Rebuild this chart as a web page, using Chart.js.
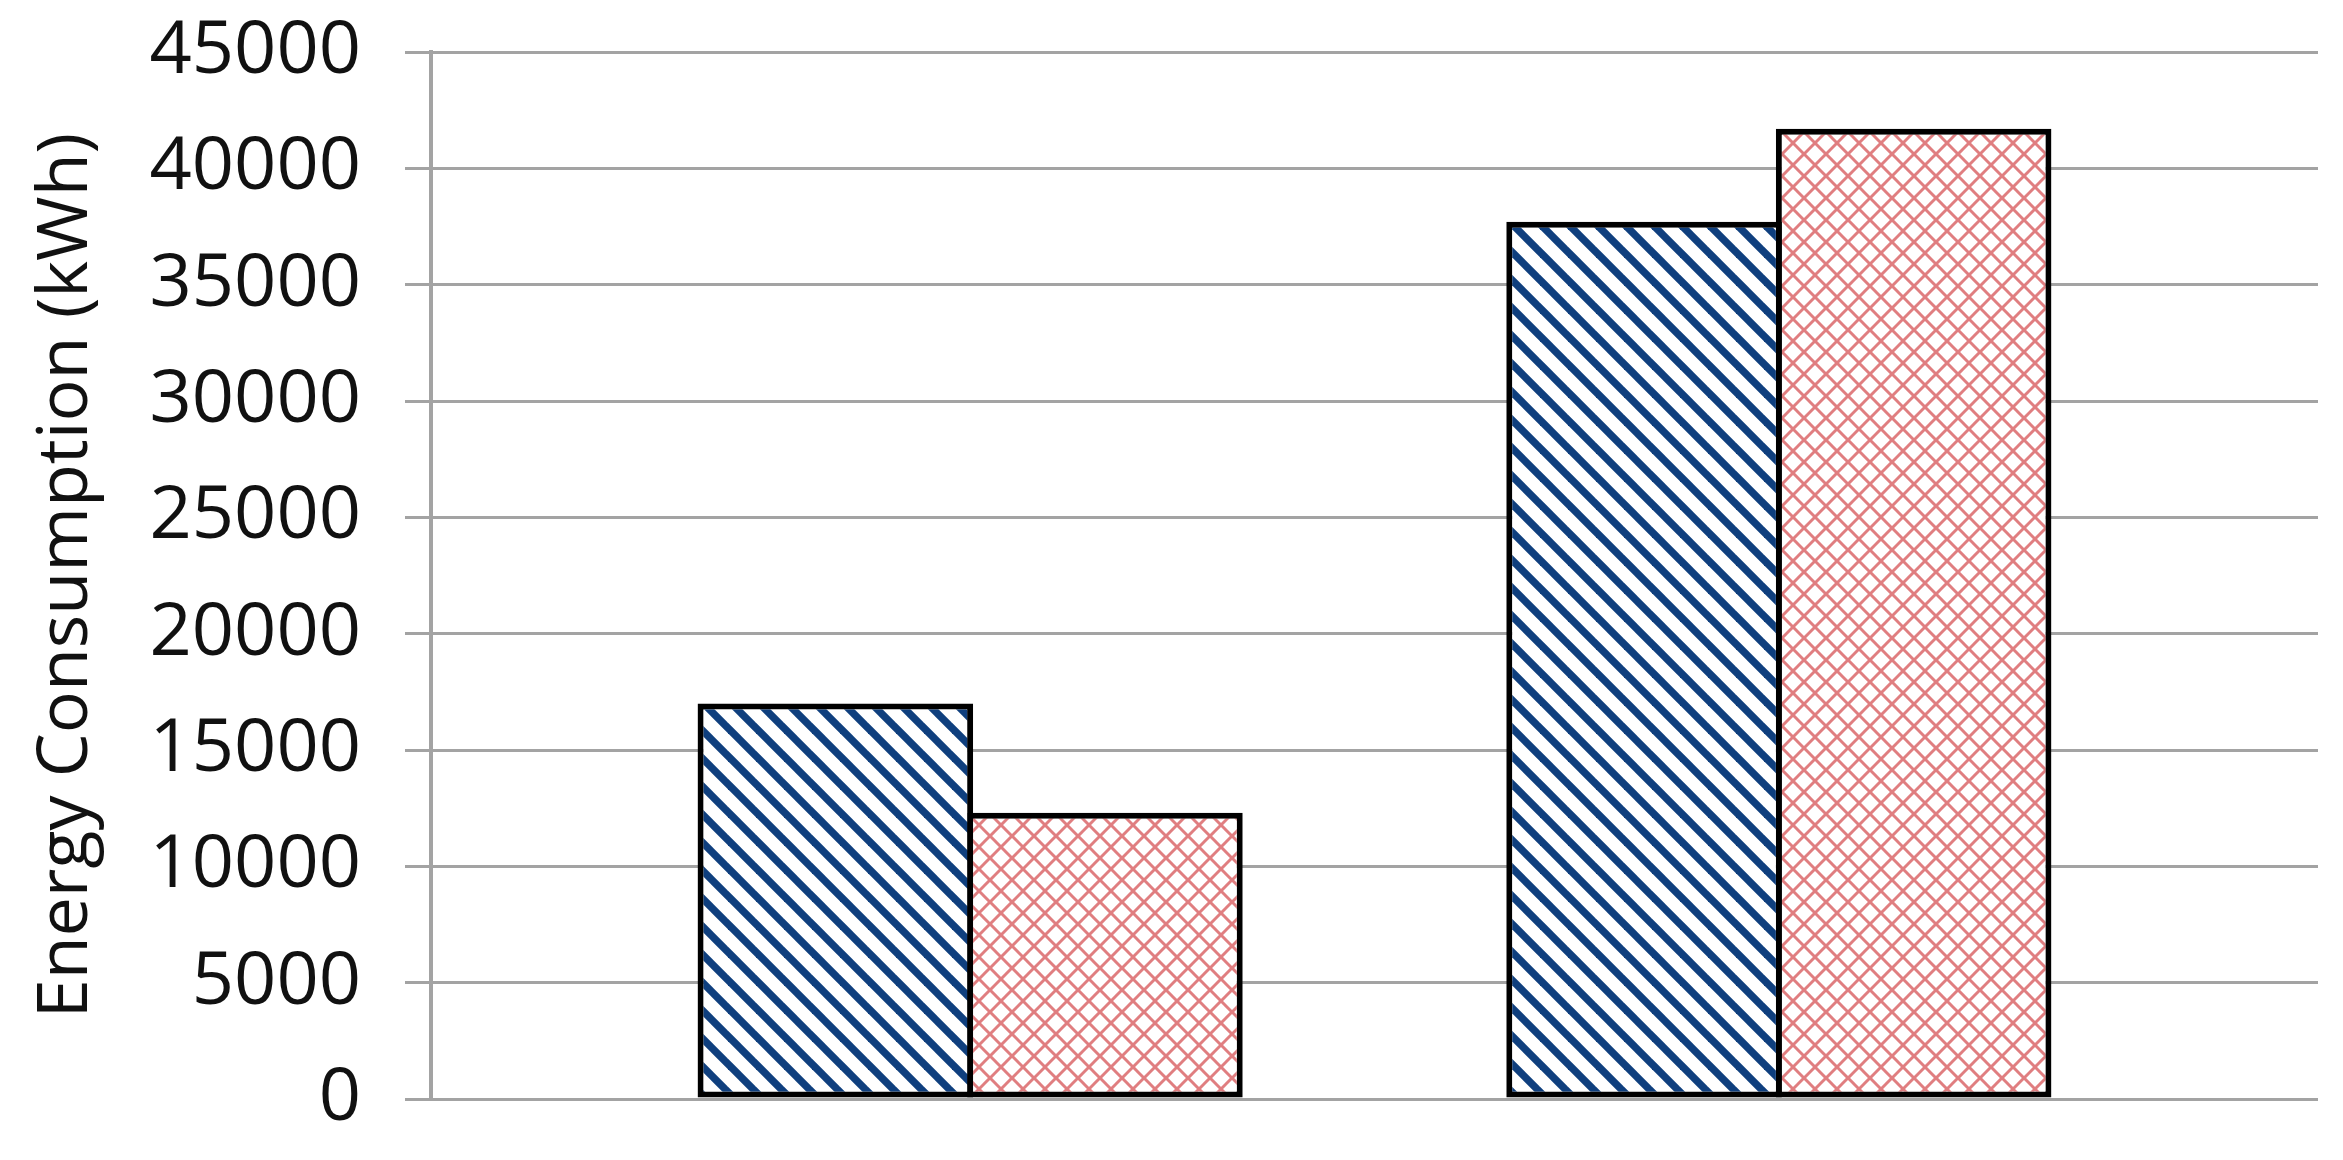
<!DOCTYPE html>
<html>
<head>
<meta charset="utf-8">
<script src="https://cdn.jsdelivr.net/npm/chart.js@4.4.1/dist/chart.umd.min.js"></script>
<style>
  html, body { margin: 0; padding: 0; background: #ffffff; }
  #wrap { width: 2343px; height: 1160px; }
</style>
</head>
<body>
<div id="wrap"><canvas id="c" width="2343" height="1160"></canvas></div>
<script>
// ---- data ----
const categories = ['Case 1', 'Case 2'];
const seriesNames = ['Series 1', 'Series 2'];
const seriesStriped = [17000, 37700];
const seriesHatched = [12300, 41700];
const yTicks = [0, 5000, 10000, 15000, 20000, 25000, 30000, 35000, 40000, 45000];
const yTitle = 'Energy Consumption (kWh)';

// ---- patterns ----
function stripePattern(color, period, width) {
  const c = document.createElement('canvas');
  c.width = period; c.height = period;
  const g = c.getContext('2d');
  g.fillStyle = '#ffffff'; g.fillRect(0, 0, period, period);
  g.strokeStyle = color; g.lineWidth = width; g.lineCap = 'square';
  for (let k = -1; k <= 1; k++) {
    g.beginPath(); g.moveTo(k * period, 0); g.lineTo(k * period + period, period); g.stroke();
  }
  return g.createPattern(c, 'repeat');
}
function crossPattern(color, period, width) {
  const c = document.createElement('canvas');
  c.width = period; c.height = period;
  const g = c.getContext('2d');
  g.fillStyle = '#ffffff'; g.fillRect(0, 0, period, period);
  g.strokeStyle = color; g.lineWidth = width;
  for (let k = -1; k <= 1; k++) {
    g.beginPath(); g.moveTo(k * period, 0); g.lineTo(k * period + period, period); g.stroke();
    g.beginPath(); g.moveTo(k * period, period); g.lineTo(k * period + period, 0); g.stroke();
  }
  return g.createPattern(c, 'repeat');
}
const ctx = document.getElementById('c').getContext('2d');
const bluePat = stripePattern('#0f3f7e', 28, 7.5);
const pinkPat = crossPattern('#e07e80', 22, 3);

const toPts = arr => arr.map((v, i) => ({ x: i, y: v }));

new Chart(ctx, {
  type: 'bar',
  data: {
    labels: categories,
    datasets: [
      { label: seriesNames[0], data: toPts(seriesStriped), backgroundColor: bluePat,
        borderColor: '#000000', borderWidth: 6, borderSkipped: false },
      { label: seriesNames[1], data: toPts(seriesHatched), backgroundColor: pinkPat,
        borderColor: '#000000', borderWidth: 6, borderSkipped: false }
    ]
  },
  options: {
    responsive: false,
    animation: false,
    devicePixelRatio: 1,
    layout: { padding: { top: 52, right: 25, bottom: 61, left: 0 } },
    plugins: { legend: { display: false }, tooltip: { enabled: false } },
    datasets: { bar: { categoryPercentage: 2 / 3, barPercentage: 276 / 270 } },
    scales: {
      x: {
        type: 'linear',
        offset: false,
        min: -2 / 3,
        max: categories.length - 1 + 2 / 3,
        display: false,
        afterBuildTicks: s => { s.ticks = categories.map((_, i) => ({ value: i })); }
      },
      y: {
        min: yTicks[0],
        max: yTicks[yTicks.length - 1],
        afterBuildTicks: s => { s.ticks = yTicks.map(v => ({ value: v })); },
        afterFit: s => { s.width = 431; s.paddingTop = 0; s.paddingBottom = 0; },
        ticks: {
          color: '#111111',
          padding: 44,
          font: { family: 'Open Sans', size: 74 },
          callback: v => String(v)
        },
        grid: { color: '#a3a3a3', lineWidth: 3, drawTicks: true, tickLength: 26, tickColor: '#a3a3a3' },
        border: { display: true, color: '#a3a3a3', width: 4 },
        title: {
          display: true,
          text: yTitle,
          color: '#111111',
          font: { family: 'Open Sans', size: 70 },
          padding: { top: 25, bottom: 0 }
        }
      }
    }
  }
});
</script>
</body>
</html>
